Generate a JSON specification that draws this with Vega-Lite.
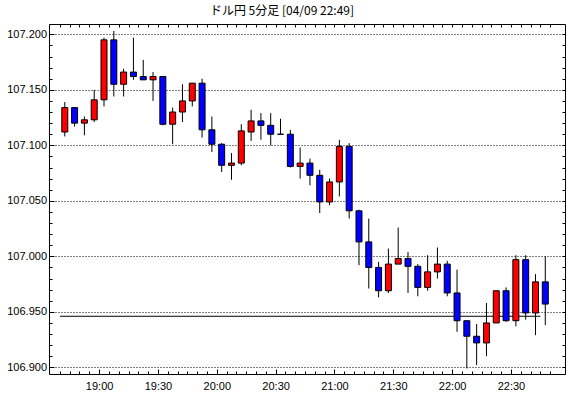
{
  "$schema": "https://vega.github.io/schema/vega-lite/v6.json",
  "width": 516,
  "height": 350,
  "autosize": {"type": "none"},
  "padding": {"left": 49, "top": 24, "right": 5, "bottom": 24},
  "background": "white",
  "title": {"text": "ドル円 5分足 [04/09 22:49]", "font": "Noto Sans CJK JP", "fontSize": 12, "fontWeight": "normal", "color": "black", "anchor": "middle", "dx": -25, "offset": 6},
  "config": {
    "view": {"stroke": "black", "strokeWidth": 1},
    "axis": {"domain": false, "labelFont": "Liberation Sans", "labelFontSize": 11, "labelColor": "black", "tickColor": "black", "tickWidth": 1, "gridColor": "black", "gridDash": [1, 2], "gridOpacity": 1, "gridWidth": 1}
  },
  "datasets": {
    "candles": [
      {"t": "2020-04-09T18:42:30", "open": 107.112, "high": 107.139, "low": 107.108, "close": 107.134},
      {"t": "2020-04-09T18:47:30", "open": 107.134, "high": 107.134, "low": 107.117, "close": 107.120},
      {"t": "2020-04-09T18:52:30", "open": 107.120, "high": 107.126, "low": 107.109, "close": 107.123},
      {"t": "2020-04-09T18:57:30", "open": 107.123, "high": 107.150, "low": 107.121, "close": 107.141},
      {"t": "2020-04-09T19:02:30", "open": 107.141, "high": 107.197, "low": 107.135, "close": 107.195},
      {"t": "2020-04-09T19:07:30", "open": 107.195, "high": 107.203, "low": 107.144, "close": 107.155},
      {"t": "2020-04-09T19:12:30", "open": 107.155, "high": 107.169, "low": 107.144, "close": 107.166},
      {"t": "2020-04-09T19:17:30", "open": 107.166, "high": 107.197, "low": 107.159, "close": 107.162},
      {"t": "2020-04-09T19:22:30", "open": 107.162, "high": 107.177, "low": 107.159, "close": 107.159},
      {"t": "2020-04-09T19:27:30", "open": 107.159, "high": 107.166, "low": 107.140, "close": 107.162},
      {"t": "2020-04-09T19:32:30", "open": 107.162, "high": 107.162, "low": 107.118, "close": 107.119},
      {"t": "2020-04-09T19:37:30", "open": 107.119, "high": 107.134, "low": 107.101, "close": 107.130},
      {"t": "2020-04-09T19:42:30", "open": 107.130, "high": 107.155, "low": 107.121, "close": 107.140},
      {"t": "2020-04-09T19:47:30", "open": 107.140, "high": 107.156, "low": 107.135, "close": 107.156},
      {"t": "2020-04-09T19:52:30", "open": 107.156, "high": 107.160, "low": 107.107, "close": 107.114},
      {"t": "2020-04-09T19:57:30", "open": 107.114, "high": 107.126, "low": 107.094, "close": 107.101},
      {"t": "2020-04-09T20:02:30", "open": 107.101, "high": 107.102, "low": 107.076, "close": 107.082},
      {"t": "2020-04-09T20:07:30", "open": 107.082, "high": 107.093, "low": 107.069, "close": 107.084},
      {"t": "2020-04-09T20:12:30", "open": 107.084, "high": 107.119, "low": 107.082, "close": 107.113},
      {"t": "2020-04-09T20:17:30", "open": 107.112, "high": 107.132, "low": 107.104, "close": 107.122},
      {"t": "2020-04-09T20:22:30", "open": 107.122, "high": 107.129, "low": 107.105, "close": 107.118},
      {"t": "2020-04-09T20:27:30", "open": 107.118, "high": 107.129, "low": 107.100, "close": 107.110},
      {"t": "2020-04-09T20:32:30", "open": 107.110, "high": 107.124, "low": 107.110, "close": 107.110},
      {"t": "2020-04-09T20:37:30", "open": 107.110, "high": 107.114, "low": 107.080, "close": 107.081},
      {"t": "2020-04-09T20:42:30", "open": 107.081, "high": 107.098, "low": 107.070, "close": 107.084},
      {"t": "2020-04-09T20:47:30", "open": 107.084, "high": 107.088, "low": 107.064, "close": 107.073},
      {"t": "2020-04-09T20:52:30", "open": 107.073, "high": 107.078, "low": 107.039, "close": 107.049},
      {"t": "2020-04-09T20:57:30", "open": 107.049, "high": 107.070, "low": 107.046, "close": 107.067},
      {"t": "2020-04-09T21:02:30", "open": 107.067, "high": 107.105, "low": 107.054, "close": 107.099},
      {"t": "2020-04-09T21:07:30", "open": 107.099, "high": 107.102, "low": 107.034, "close": 107.041},
      {"t": "2020-04-09T21:12:30", "open": 107.041, "high": 107.042, "low": 106.992, "close": 107.013},
      {"t": "2020-04-09T21:17:30", "open": 107.013, "high": 107.034, "low": 106.971, "close": 106.990},
      {"t": "2020-04-09T21:22:30", "open": 106.990, "high": 106.995, "low": 106.963, "close": 106.969},
      {"t": "2020-04-09T21:27:30", "open": 106.969, "high": 107.007, "low": 106.967, "close": 106.993},
      {"t": "2020-04-09T21:32:30", "open": 106.993, "high": 107.026, "low": 106.993, "close": 106.998},
      {"t": "2020-04-09T21:37:30", "open": 106.998, "high": 107.004, "low": 106.967, "close": 106.991},
      {"t": "2020-04-09T21:42:30", "open": 106.991, "high": 106.993, "low": 106.964, "close": 106.972},
      {"t": "2020-04-09T21:47:30", "open": 106.972, "high": 107.001, "low": 106.969, "close": 106.986},
      {"t": "2020-04-09T21:52:30", "open": 106.986, "high": 107.008, "low": 106.980, "close": 106.993},
      {"t": "2020-04-09T21:57:30", "open": 106.993, "high": 106.996, "low": 106.964, "close": 106.967},
      {"t": "2020-04-09T22:02:30", "open": 106.967, "high": 106.988, "low": 106.932, "close": 106.942},
      {"t": "2020-04-09T22:07:30", "open": 106.942, "high": 106.942, "low": 106.899, "close": 106.928},
      {"t": "2020-04-09T22:12:30", "open": 106.928, "high": 106.939, "low": 106.902, "close": 106.922},
      {"t": "2020-04-09T22:17:30", "open": 106.922, "high": 106.958, "low": 106.910, "close": 106.940},
      {"t": "2020-04-09T22:22:30", "open": 106.940, "high": 106.969, "low": 106.940, "close": 106.969},
      {"t": "2020-04-09T22:27:30", "open": 106.969, "high": 106.972, "low": 106.941, "close": 106.942},
      {"t": "2020-04-09T22:32:30", "open": 106.942, "high": 107.001, "low": 106.937, "close": 106.997},
      {"t": "2020-04-09T22:37:30", "open": 106.997, "high": 107.001, "low": 106.943, "close": 106.949},
      {"t": "2020-04-09T22:42:30", "open": 106.949, "high": 106.984, "low": 106.929, "close": 106.977},
      {"t": "2020-04-09T22:47:30", "open": 106.977, "high": 107.000, "low": 106.938, "close": 106.957}
    ],
    "last": [
      {"t1": "2020-04-09T18:40:00", "t2": "2020-04-09T22:45:00", "price": 106.946}
    ]
  },
  "resolve": {"axis": {"x": "independent", "y": "independent"}},
  "layer": [
    {
      "data": {"name": "last"},
      "mark": {"type": "rule", "color": "black", "strokeWidth": 1},
      "encoding": {
        "x": {"field": "t1", "type": "temporal",
              "scale": {"domain": [{"year": 2020, "month": 4, "date": 9, "hours": 18, "minutes": 37}, {"year": 2020, "month": 4, "date": 9, "hours": 22, "minutes": 55}]},
              "axis": {"orient": "top", "title": null, "labels": false, "tickSize": -3, "grid": false,
                "values": [
                  {"year": 2020, "month": 4, "date": 9, "hours": 18, "minutes": 40}, {"year": 2020, "month": 4, "date": 9, "hours": 18, "minutes": 45}, {"year": 2020, "month": 4, "date": 9, "hours": 18, "minutes": 50}, {"year": 2020, "month": 4, "date": 9, "hours": 18, "minutes": 55},
                  {"year": 2020, "month": 4, "date": 9, "hours": 19, "minutes": 0}, {"year": 2020, "month": 4, "date": 9, "hours": 19, "minutes": 5}, {"year": 2020, "month": 4, "date": 9, "hours": 19, "minutes": 10}, {"year": 2020, "month": 4, "date": 9, "hours": 19, "minutes": 15}, {"year": 2020, "month": 4, "date": 9, "hours": 19, "minutes": 20}, {"year": 2020, "month": 4, "date": 9, "hours": 19, "minutes": 25}, {"year": 2020, "month": 4, "date": 9, "hours": 19, "minutes": 30}, {"year": 2020, "month": 4, "date": 9, "hours": 19, "minutes": 35}, {"year": 2020, "month": 4, "date": 9, "hours": 19, "minutes": 40}, {"year": 2020, "month": 4, "date": 9, "hours": 19, "minutes": 45}, {"year": 2020, "month": 4, "date": 9, "hours": 19, "minutes": 50}, {"year": 2020, "month": 4, "date": 9, "hours": 19, "minutes": 55},
                  {"year": 2020, "month": 4, "date": 9, "hours": 20, "minutes": 0}, {"year": 2020, "month": 4, "date": 9, "hours": 20, "minutes": 5}, {"year": 2020, "month": 4, "date": 9, "hours": 20, "minutes": 10}, {"year": 2020, "month": 4, "date": 9, "hours": 20, "minutes": 15}, {"year": 2020, "month": 4, "date": 9, "hours": 20, "minutes": 20}, {"year": 2020, "month": 4, "date": 9, "hours": 20, "minutes": 25}, {"year": 2020, "month": 4, "date": 9, "hours": 20, "minutes": 30}, {"year": 2020, "month": 4, "date": 9, "hours": 20, "minutes": 35}, {"year": 2020, "month": 4, "date": 9, "hours": 20, "minutes": 40}, {"year": 2020, "month": 4, "date": 9, "hours": 20, "minutes": 45}, {"year": 2020, "month": 4, "date": 9, "hours": 20, "minutes": 50}, {"year": 2020, "month": 4, "date": 9, "hours": 20, "minutes": 55},
                  {"year": 2020, "month": 4, "date": 9, "hours": 21, "minutes": 0}, {"year": 2020, "month": 4, "date": 9, "hours": 21, "minutes": 5}, {"year": 2020, "month": 4, "date": 9, "hours": 21, "minutes": 10}, {"year": 2020, "month": 4, "date": 9, "hours": 21, "minutes": 15}, {"year": 2020, "month": 4, "date": 9, "hours": 21, "minutes": 20}, {"year": 2020, "month": 4, "date": 9, "hours": 21, "minutes": 25}, {"year": 2020, "month": 4, "date": 9, "hours": 21, "minutes": 30}, {"year": 2020, "month": 4, "date": 9, "hours": 21, "minutes": 35}, {"year": 2020, "month": 4, "date": 9, "hours": 21, "minutes": 40}, {"year": 2020, "month": 4, "date": 9, "hours": 21, "minutes": 45}, {"year": 2020, "month": 4, "date": 9, "hours": 21, "minutes": 50}, {"year": 2020, "month": 4, "date": 9, "hours": 21, "minutes": 55},
                  {"year": 2020, "month": 4, "date": 9, "hours": 22, "minutes": 0}, {"year": 2020, "month": 4, "date": 9, "hours": 22, "minutes": 5}, {"year": 2020, "month": 4, "date": 9, "hours": 22, "minutes": 10}, {"year": 2020, "month": 4, "date": 9, "hours": 22, "minutes": 15}, {"year": 2020, "month": 4, "date": 9, "hours": 22, "minutes": 20}, {"year": 2020, "month": 4, "date": 9, "hours": 22, "minutes": 25}, {"year": 2020, "month": 4, "date": 9, "hours": 22, "minutes": 30}, {"year": 2020, "month": 4, "date": 9, "hours": 22, "minutes": 35}, {"year": 2020, "month": 4, "date": 9, "hours": 22, "minutes": 40}, {"year": 2020, "month": 4, "date": 9, "hours": 22, "minutes": 45}, {"year": 2020, "month": 4, "date": 9, "hours": 22, "minutes": 50}
                ]}},
        "x2": {"field": "t2"},
        "y": {"field": "price", "type": "quantitative",
              "scale": {"domain": [106.894, 107.2093], "zero": false, "nice": false},
              "axis": {"orient": "right", "title": null, "labels": false, "values": [106.90, 106.91, 106.92, 106.93, 106.94, 106.95, 106.96, 106.97, 106.98, 106.99, 107.00, 107.01, 107.02, 107.03, 107.04, 107.05, 107.06, 107.07, 107.08, 107.09, 107.10, 107.11, 107.12, 107.13, 107.14, 107.15, 107.16, 107.17, 107.18, 107.19, 107.20], "tickSize": -3, "grid": false}}
      }
    },
    {
      "data": {"name": "candles"},
      "mark": {"type": "rule", "color": "black", "strokeWidth": 1},
      "encoding": {
        "x": {"field": "t", "type": "temporal",
              "scale": {"domain": [{"year": 2020, "month": 4, "date": 9, "hours": 18, "minutes": 37}, {"year": 2020, "month": 4, "date": 9, "hours": 22, "minutes": 55}]},
              "axis": {"orient": "bottom", "title": null, "format": "%H:%M", "tickSize": -5, "labelPadding": 11, "grid": false,
                "values": [
                  {"year": 2020, "month": 4, "date": 9, "hours": 19, "minutes": 0}, {"year": 2020, "month": 4, "date": 9, "hours": 19, "minutes": 30},
                  {"year": 2020, "month": 4, "date": 9, "hours": 20, "minutes": 0}, {"year": 2020, "month": 4, "date": 9, "hours": 20, "minutes": 30},
                  {"year": 2020, "month": 4, "date": 9, "hours": 21, "minutes": 0}, {"year": 2020, "month": 4, "date": 9, "hours": 21, "minutes": 30},
                  {"year": 2020, "month": 4, "date": 9, "hours": 22, "minutes": 0}, {"year": 2020, "month": 4, "date": 9, "hours": 22, "minutes": 30}
                ]}},
        "y": {"field": "low", "type": "quantitative",
              "scale": {"domain": [106.894, 107.2093], "zero": false, "nice": false},
              "axis": {"orient": "left", "title": null, "format": ".3f", "values": [106.90, 106.95, 107.00, 107.05, 107.10, 107.15, 107.20], "tickSize": -5, "labelPadding": 7.5, "grid": true}},
        "y2": {"field": "high"}
      }
    },
    {
      "data": {"name": "candles"},
      "mark": {"type": "bar", "size": 6, "stroke": "black", "strokeWidth": 1},
      "encoding": {
        "x": {"field": "t", "type": "temporal",
              "scale": {"domain": [{"year": 2020, "month": 4, "date": 9, "hours": 18, "minutes": 37}, {"year": 2020, "month": 4, "date": 9, "hours": 22, "minutes": 55}]},
              "axis": {"orient": "bottom", "title": null, "labels": false, "tickSize": -3, "grid": false,
                "values": [
                  {"year": 2020, "month": 4, "date": 9, "hours": 18, "minutes": 40}, {"year": 2020, "month": 4, "date": 9, "hours": 18, "minutes": 45}, {"year": 2020, "month": 4, "date": 9, "hours": 18, "minutes": 50}, {"year": 2020, "month": 4, "date": 9, "hours": 18, "minutes": 55},
                  {"year": 2020, "month": 4, "date": 9, "hours": 19, "minutes": 0}, {"year": 2020, "month": 4, "date": 9, "hours": 19, "minutes": 5}, {"year": 2020, "month": 4, "date": 9, "hours": 19, "minutes": 10}, {"year": 2020, "month": 4, "date": 9, "hours": 19, "minutes": 15}, {"year": 2020, "month": 4, "date": 9, "hours": 19, "minutes": 20}, {"year": 2020, "month": 4, "date": 9, "hours": 19, "minutes": 25}, {"year": 2020, "month": 4, "date": 9, "hours": 19, "minutes": 30}, {"year": 2020, "month": 4, "date": 9, "hours": 19, "minutes": 35}, {"year": 2020, "month": 4, "date": 9, "hours": 19, "minutes": 40}, {"year": 2020, "month": 4, "date": 9, "hours": 19, "minutes": 45}, {"year": 2020, "month": 4, "date": 9, "hours": 19, "minutes": 50}, {"year": 2020, "month": 4, "date": 9, "hours": 19, "minutes": 55},
                  {"year": 2020, "month": 4, "date": 9, "hours": 20, "minutes": 0}, {"year": 2020, "month": 4, "date": 9, "hours": 20, "minutes": 5}, {"year": 2020, "month": 4, "date": 9, "hours": 20, "minutes": 10}, {"year": 2020, "month": 4, "date": 9, "hours": 20, "minutes": 15}, {"year": 2020, "month": 4, "date": 9, "hours": 20, "minutes": 20}, {"year": 2020, "month": 4, "date": 9, "hours": 20, "minutes": 25}, {"year": 2020, "month": 4, "date": 9, "hours": 20, "minutes": 30}, {"year": 2020, "month": 4, "date": 9, "hours": 20, "minutes": 35}, {"year": 2020, "month": 4, "date": 9, "hours": 20, "minutes": 40}, {"year": 2020, "month": 4, "date": 9, "hours": 20, "minutes": 45}, {"year": 2020, "month": 4, "date": 9, "hours": 20, "minutes": 50}, {"year": 2020, "month": 4, "date": 9, "hours": 20, "minutes": 55},
                  {"year": 2020, "month": 4, "date": 9, "hours": 21, "minutes": 0}, {"year": 2020, "month": 4, "date": 9, "hours": 21, "minutes": 5}, {"year": 2020, "month": 4, "date": 9, "hours": 21, "minutes": 10}, {"year": 2020, "month": 4, "date": 9, "hours": 21, "minutes": 15}, {"year": 2020, "month": 4, "date": 9, "hours": 21, "minutes": 20}, {"year": 2020, "month": 4, "date": 9, "hours": 21, "minutes": 25}, {"year": 2020, "month": 4, "date": 9, "hours": 21, "minutes": 30}, {"year": 2020, "month": 4, "date": 9, "hours": 21, "minutes": 35}, {"year": 2020, "month": 4, "date": 9, "hours": 21, "minutes": 40}, {"year": 2020, "month": 4, "date": 9, "hours": 21, "minutes": 45}, {"year": 2020, "month": 4, "date": 9, "hours": 21, "minutes": 50}, {"year": 2020, "month": 4, "date": 9, "hours": 21, "minutes": 55},
                  {"year": 2020, "month": 4, "date": 9, "hours": 22, "minutes": 0}, {"year": 2020, "month": 4, "date": 9, "hours": 22, "minutes": 5}, {"year": 2020, "month": 4, "date": 9, "hours": 22, "minutes": 10}, {"year": 2020, "month": 4, "date": 9, "hours": 22, "minutes": 15}, {"year": 2020, "month": 4, "date": 9, "hours": 22, "minutes": 20}, {"year": 2020, "month": 4, "date": 9, "hours": 22, "minutes": 25}, {"year": 2020, "month": 4, "date": 9, "hours": 22, "minutes": 30}, {"year": 2020, "month": 4, "date": 9, "hours": 22, "minutes": 35}, {"year": 2020, "month": 4, "date": 9, "hours": 22, "minutes": 40}, {"year": 2020, "month": 4, "date": 9, "hours": 22, "minutes": 45}, {"year": 2020, "month": 4, "date": 9, "hours": 22, "minutes": 50}
                ]}},
        "y": {"field": "open", "type": "quantitative",
              "scale": {"domain": [106.894, 107.2093], "zero": false, "nice": false},
              "axis": {"orient": "left", "title": null, "labels": false, "values": [106.90, 106.91, 106.92, 106.93, 106.94, 106.95, 106.96, 106.97, 106.98, 106.99, 107.00, 107.01, 107.02, 107.03, 107.04, 107.05, 107.06, 107.07, 107.08, 107.09, 107.10, 107.11, 107.12, 107.13, 107.14, 107.15, 107.16, 107.17, 107.18, 107.19, 107.20], "tickSize": -3, "grid": false}},
        "y2": {"field": "close"},
        "color": {"condition": {"test": "datum.close > datum.open", "value": "#ff0000"}, "value": "#0000ff"}
      }
    }
  ]
}
